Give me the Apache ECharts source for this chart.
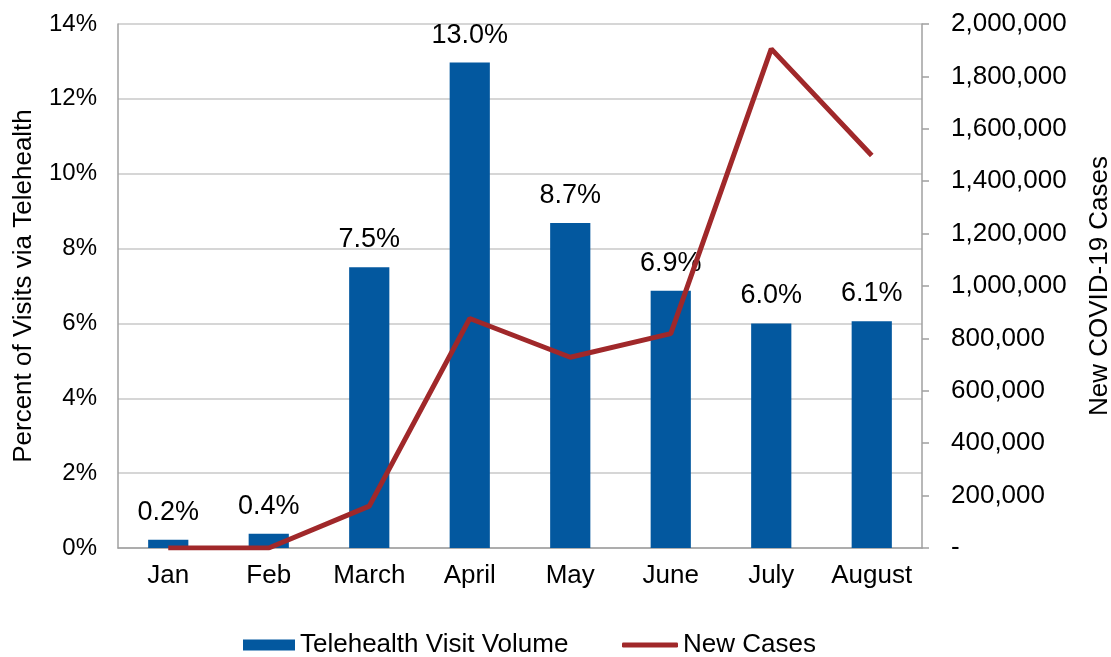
<!DOCTYPE html>
<html>
<head>
<meta charset="utf-8">
<script src="https://cdn.jsdelivr.net/npm/echarts@6/dist/echarts.min.js"></script>
<style>
  html, body { margin: 0; padding: 0; background: #fff; }
  #chart { width: 1111px; height: 657px; }
</style>
</head>
<body>
<div id="chart"></div>
<script>
const months = ['Jan', 'Feb', 'March', 'April', 'May', 'June', 'July', 'August'];
const telehealthPct = [0.22, 0.38, 7.5, 12.97, 8.68, 6.87, 6.0, 6.06];
const newCases = [7, 20, 160000, 876000, 728000, 818000, 1905000, 1498000];

const font = 'Liberation Sans, Arial, Helvetica, sans-serif';
const chart = echarts.init(document.getElementById('chart'));

chart.setOption({
  animation: false,
  textStyle: { fontFamily: font },
  grid: { left: 118, right: 189, top: 24, bottom: 109, outerBoundsMode: 'none' },
  legend: [
    {
      left: 243,
      top: 632,
      padding: 0,
      itemWidth: 52,
      itemHeight: 11,
      textStyle: { fontSize: 26, color: '#000', fontFamily: font },
      data: [{ name: 'Telehealth Visit Volume', icon: 'rect' }]
    },
    {
      left: 622,
      top: 632,
      padding: 0,
      itemWidth: 56,
      itemHeight: 5,
      textStyle: { fontSize: 26, color: '#000', fontFamily: font },
      data: [{ name: 'New Cases', icon: 'roundRect' }]
    }
  ],
  xAxis: {
    type: 'category',
    data: months,
    axisLine: { lineStyle: { color: '#a0a0a0', width: 1.5 } },
    axisTick: { show: false },
    axisLabel: { color: '#000', fontSize: 26, margin: 15, interval: 0 }
  },
  yAxis: [
    {
      type: 'value',
      min: 0,
      max: 14,
      interval: 2,
      name: 'Percent of Visits via Telehealth',
      nameLocation: 'middle',
      nameGap: 81,
      nameRotate: 90,
      nameTextStyle: { fontSize: 26, color: '#000' },
      axisLine: { show: true, lineStyle: { color: '#a0a0a0', width: 1.5 } },
      axisTick: { show: false },
      splitLine: { show: true, lineStyle: { color: '#c8c8c8', width: 1.5 } },
      axisLabel: { color: '#000', fontSize: 24, margin: 21, formatter: (v) => v + '%' }
    },
    {
      type: 'value',
      min: 0,
      max: 2000000,
      interval: 200000,
      position: 'right',
      name: 'New COVID-19 Cases',
      nameLocation: 'middle',
      nameGap: 165,
      nameRotate: 90,
      nameTextStyle: { fontSize: 26, color: '#000' },
      axisLine: { show: true, lineStyle: { color: '#a0a0a0', width: 1.5 } },
      axisTick: { show: true, length: 7, lineStyle: { color: '#a0a0a0', width: 1.5 } },
      splitLine: { show: false },
      axisLabel: {
        color: '#000',
        fontSize: 26,
        margin: 29,
        align: 'left',
        formatter: (v) => (v === 0 ? '-' : v.toLocaleString('en-US'))
      }
    }
  ],
  series: [
    {
      name: 'Telehealth Visit Volume',
      type: 'bar',
      yAxisIndex: 0,
      barWidth: '40%',
      itemStyle: { color: '#03589f' },
      label: {
        show: true,
        position: 'top',
        distance: 14,
        fontSize: 27,
        color: '#000',
        formatter: (p) => p.value.toFixed(1) + '%'
      },
      data: telehealthPct
    },
    {
      name: 'New Cases',
      type: 'line',
      yAxisIndex: 1,
      symbol: 'none',
      lineStyle: { color: '#a0282a', width: 5 },
      itemStyle: { color: '#a0282a' },
      data: newCases
    }
  ]
});
</script>
</body>
</html>
